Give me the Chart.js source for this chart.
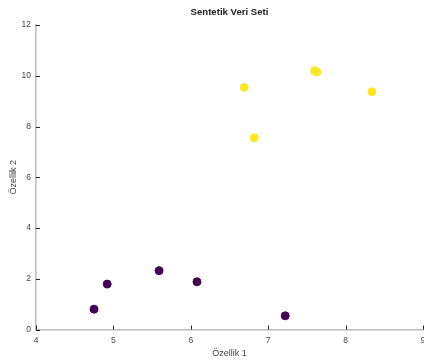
<!DOCTYPE html>
<html>
<head>
<meta charset="utf-8">
<script src="https://cdn.jsdelivr.net/npm/chart.js@4/dist/chart.umd.min.js"></script>
<style>
  html, body { margin: 0; padding: 0; background: #fff; }
  #wrap { width: 424px; height: 363px; }
</style>
</head>
<body>
<div id="wrap"><canvas id="scatter"></canvas></div>
<script>
// class 0 (purple) and class 1 (yellow) samples
const class0X = [4.75, 4.92, 5.59, 6.08, 7.22];
const class0Y = [0.80, 1.79, 2.32, 1.88, 0.54];
const class1X = [6.69, 6.82, 7.60, 7.63, 8.34];
const class1Y = [9.54, 7.56, 10.20, 10.15, 9.37];

const xTicks = [4, 5, 6, 7, 8, 9];
const yTicks = [0, 2, 4, 6, 8, 10, 12];

const FONT = "'Liberation Sans', Arial, sans-serif";

function toPoints(xs, ys) {
  return xs.map((x, i) => ({ x: x, y: ys[i] }));
}

// short tick marks pointing into the plot area
const innerTicks = {
  id: "innerTicks",
  afterDraw(chart) {
    const ctx = chart.ctx;
    const xs = chart.scales.x;
    const ys = chart.scales.y;
    const area = chart.chartArea;
    ctx.save();
    ctx.strokeStyle = "#222";
    ctx.lineWidth = 1;
    ctx.beginPath();
    xTicks.forEach((v) => {
      const px = Math.round(xs.getPixelForValue(v)) + 0.5;
      ctx.moveTo(px, area.bottom);
      ctx.lineTo(px, area.bottom - 4);
    });
    yTicks.forEach((v) => {
      const py = Math.round(ys.getPixelForValue(v)) + 0.5;
      ctx.moveTo(area.left, py);
      ctx.lineTo(area.left + 4, py);
    });
    ctx.stroke();
    ctx.restore();
  },
};

// let the last x label hang off the edge instead of shrinking the plot
function noSidePadding(s) {
  s.paddingLeft = 0;
  s.paddingRight = 0;
  s.height = 33.5;
}

const scatterCtx = document.getElementById("scatter");
window.myScatter = new Chart(scatterCtx, {
  type: "scatter",
  data: {
    datasets: [
      {
        data: toPoints(class0X, class0Y),
        backgroundColor: "#440154",
        borderColor: "#440154",
        pointRadius: 4,
      },
      {
        data: toPoints(class1X, class1Y),
        backgroundColor: "#fde725",
        borderColor: "#fde725",
        pointRadius: 4,
      },
    ],
  },
  options: {
    responsive: true,
    maintainAspectRatio: false,
    animation: false,
    layout: { autoPadding: false, padding: { top: 0, right: 1, left: 0, bottom: 0 } },
    plugins: {
      legend: { display: false },
      tooltip: { enabled: false },
      title: {
        display: true,
        fullSize: false,
        text: "Sentetik Veri Seti",
        color: "#222",
        font: { family: FONT, size: 9.6, weight: "bold" },
        padding: { top: 7, bottom: 6.5 },
      },
    },
    scales: {
      x: {
        type: "linear",
        min: 4,
        max: 9,
        afterBuildTicks: (s) => { s.ticks = xTicks.map((v) => ({ value: v })); },
        afterFit: noSidePadding,
        grid: { display: false, drawTicks: false },
        border: { display: true, color: "#bbb", width: 1.5 },
        ticks: { color: "#444", font: { family: FONT, size: 8.5 }, padding: 6, maxRotation: 0 },
        title: {
          display: true,
          text: "Özellik 1",
          color: "#444",
          font: { family: FONT, size: 9 },
          padding: { top: 2, bottom: 4 },
        },
      },
      y: {
        type: "linear",
        min: 0,
        max: 12,
        afterBuildTicks: (s) => { s.ticks = yTicks.map((v) => ({ value: v })); },
        afterFit: (s) => { s.width = 36; },
        grid: { display: false, drawTicks: false },
        border: { display: true, color: "#bbb", width: 1.5 },
        ticks: { color: "#444", font: { family: FONT, size: 8.5 }, padding: 5 },
        title: {
          display: true,
          text: "Özellik 2",
          color: "#444",
          font: { family: FONT, size: 9 },
          padding: { top: 8, bottom: 0 },
        },
      },
    },
  },
  plugins: [innerTicks],
});
</script>
</body>
</html>
